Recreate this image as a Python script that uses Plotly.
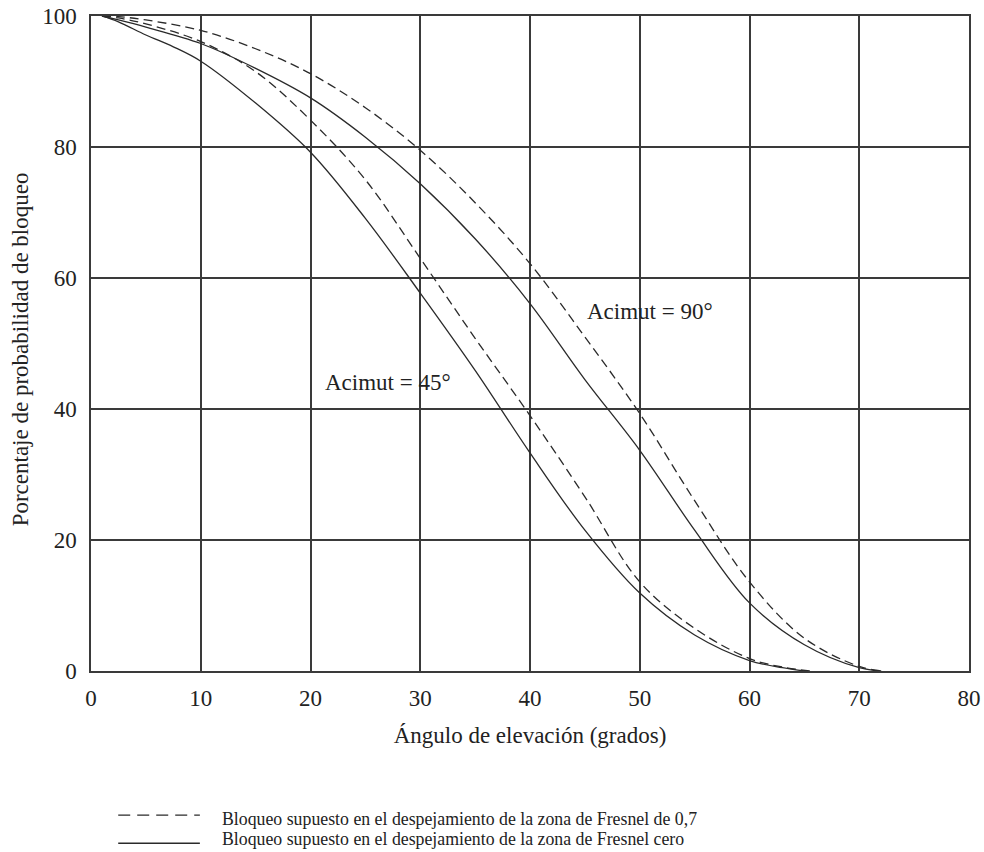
import plotly.graph_objects as go

# Data
x_s45 = [1, 2.5, 5, 7.5, 10, 15, 20, 25, 30, 35, 40, 45, 50, 55, 60, 63, 65]
y_s45 = [100, 99.1, 97.1, 95.3, 93.1, 86.7, 79.2, 69.1, 57.7, 45.9, 33.3, 21.5, 11.9, 5.5, 1.6, 0.5, 0]

x_d45 = [1, 2.5, 5, 10, 15, 20, 25, 30, 35, 40, 45, 50, 55, 60, 63, 65.5]
y_d45 = [100, 99.7, 98.8, 96.1, 91.5, 84.1, 75, 63, 50.8, 39, 26.6, 13.6, 6.5, 1.9, 0.6, 0]

x_s90 = [1, 2.5, 5, 10, 15, 20, 25, 30, 35, 40, 45, 50, 55, 60, 65, 70, 72]
y_s90 = [100, 99.4, 98.3, 95.8, 92, 87.5, 81.5, 74.4, 66, 56.1, 44.5, 33.7, 21.5, 10.4, 4, 0.5, 0]

x_d90 = [1, 2.5, 5, 10, 15, 20, 25, 30, 35, 40, 45, 50, 55, 60, 65, 70, 72.3]
y_d90 = [100, 99.9, 99.4, 97.8, 95, 91.2, 86, 79.5, 71.5, 62.2, 51, 39.3, 26, 13.6, 5, 0.7, 0]

x_ticks = [0, 10, 20, 30, 40, 50, 60, 70, 80]
y_ticks = [0, 20, 40, 60, 80, 100]

FONT = "Liberation Serif, Times New Roman, serif"
TC = "#222222"
LC = "#2a2a2a"
DASH = "9px,5px"

fig = go.Figure()
for xs, ys, dash in [(x_s45, y_s45, "solid"), (x_d45, y_d45, DASH),
                     (x_s90, y_s90, "solid"), (x_d90, y_d90, DASH)]:
    fig.add_trace(go.Scatter(x=xs, y=ys, mode="lines", line_shape="spline",
                             line=dict(color=LC, width=1.3, dash=dash),
                             showlegend=False, hoverinfo="skip"))

axis_common = dict(showgrid=True, gridcolor="#3a3a3a", gridwidth=1.5,
                   showline=True, linecolor="#3a3a3a", linewidth=1.5, mirror=True,
                   zeroline=False, ticks="", automargin=False,
                   tickfont=dict(family=FONT, size=23, color=TC))

fig.update_xaxes(range=[0, 80], tickvals=x_ticks, ticklabelstandoff=6,
                 title=dict(text="Ángulo de elevación (grados)",
                            font=dict(family=FONT, size=23, color=TC), standoff=17),
                 **axis_common)
fig.update_yaxes(range=[0, 100], tickvals=y_ticks, ticklabelstandoff=8,
                 **axis_common)

# Y-axis title placed as rotated text
fig.add_annotation(xref="paper", yref="paper", x=-0.0809, y=0.491, textangle=-90,
                   xanchor="center", yanchor="middle", showarrow=False,
                   text="Porcentaje de probabilidad de bloqueo",
                   font=dict(family=FONT, size=23, color=TC))

fig.add_annotation(x=50.95, y=54.9, text="Acimut = 90°", showarrow=False,
                   font=dict(family=FONT, size=23, color=TC))
fig.add_annotation(x=27.1, y=44.1, text="Acimut = 45°", showarrow=False,
                   font=dict(family=FONT, size=23, color=TC))

# Key below the chart
fig.add_shape(type="line", xref="paper", yref="paper", x0=0.031, x1=0.124,
              y0=-0.220, y1=-0.220, line=dict(color=LC, width=1.3, dash="12px,7px"))
fig.add_shape(type="line", xref="paper", yref="paper", x0=0.031, x1=0.124,
              y0=-0.263, y1=-0.263, line=dict(color=LC, width=1.3))
fig.add_annotation(xref="paper", yref="paper", x=0.147, y=-0.226, xanchor="left",
                   yanchor="middle", showarrow=False,
                   text="Bloqueo supuesto en el despejamiento de la zona de Fresnel de 0,7",
                   font=dict(family=FONT, size=17.8, color=TC))
fig.add_annotation(xref="paper", yref="paper", x=0.147, y=-0.2565, xanchor="left",
                   yanchor="middle", showarrow=False,
                   text="Bloqueo supuesto en el despejamiento de la zona de Fresnel cero",
                   font=dict(family=FONT, size=17.8, color=TC))

fig.update_layout(width=984, height=852, margin=dict(l=91, r=15, t=16, b=181),
                  plot_bgcolor="white", paper_bgcolor="white",
                  font=dict(family=FONT, color=TC))

fig.write_html("out.html", config={"displayModeBar": False},
               post_script="document.body.style.margin='0';document.body.style.overflow='hidden';")
